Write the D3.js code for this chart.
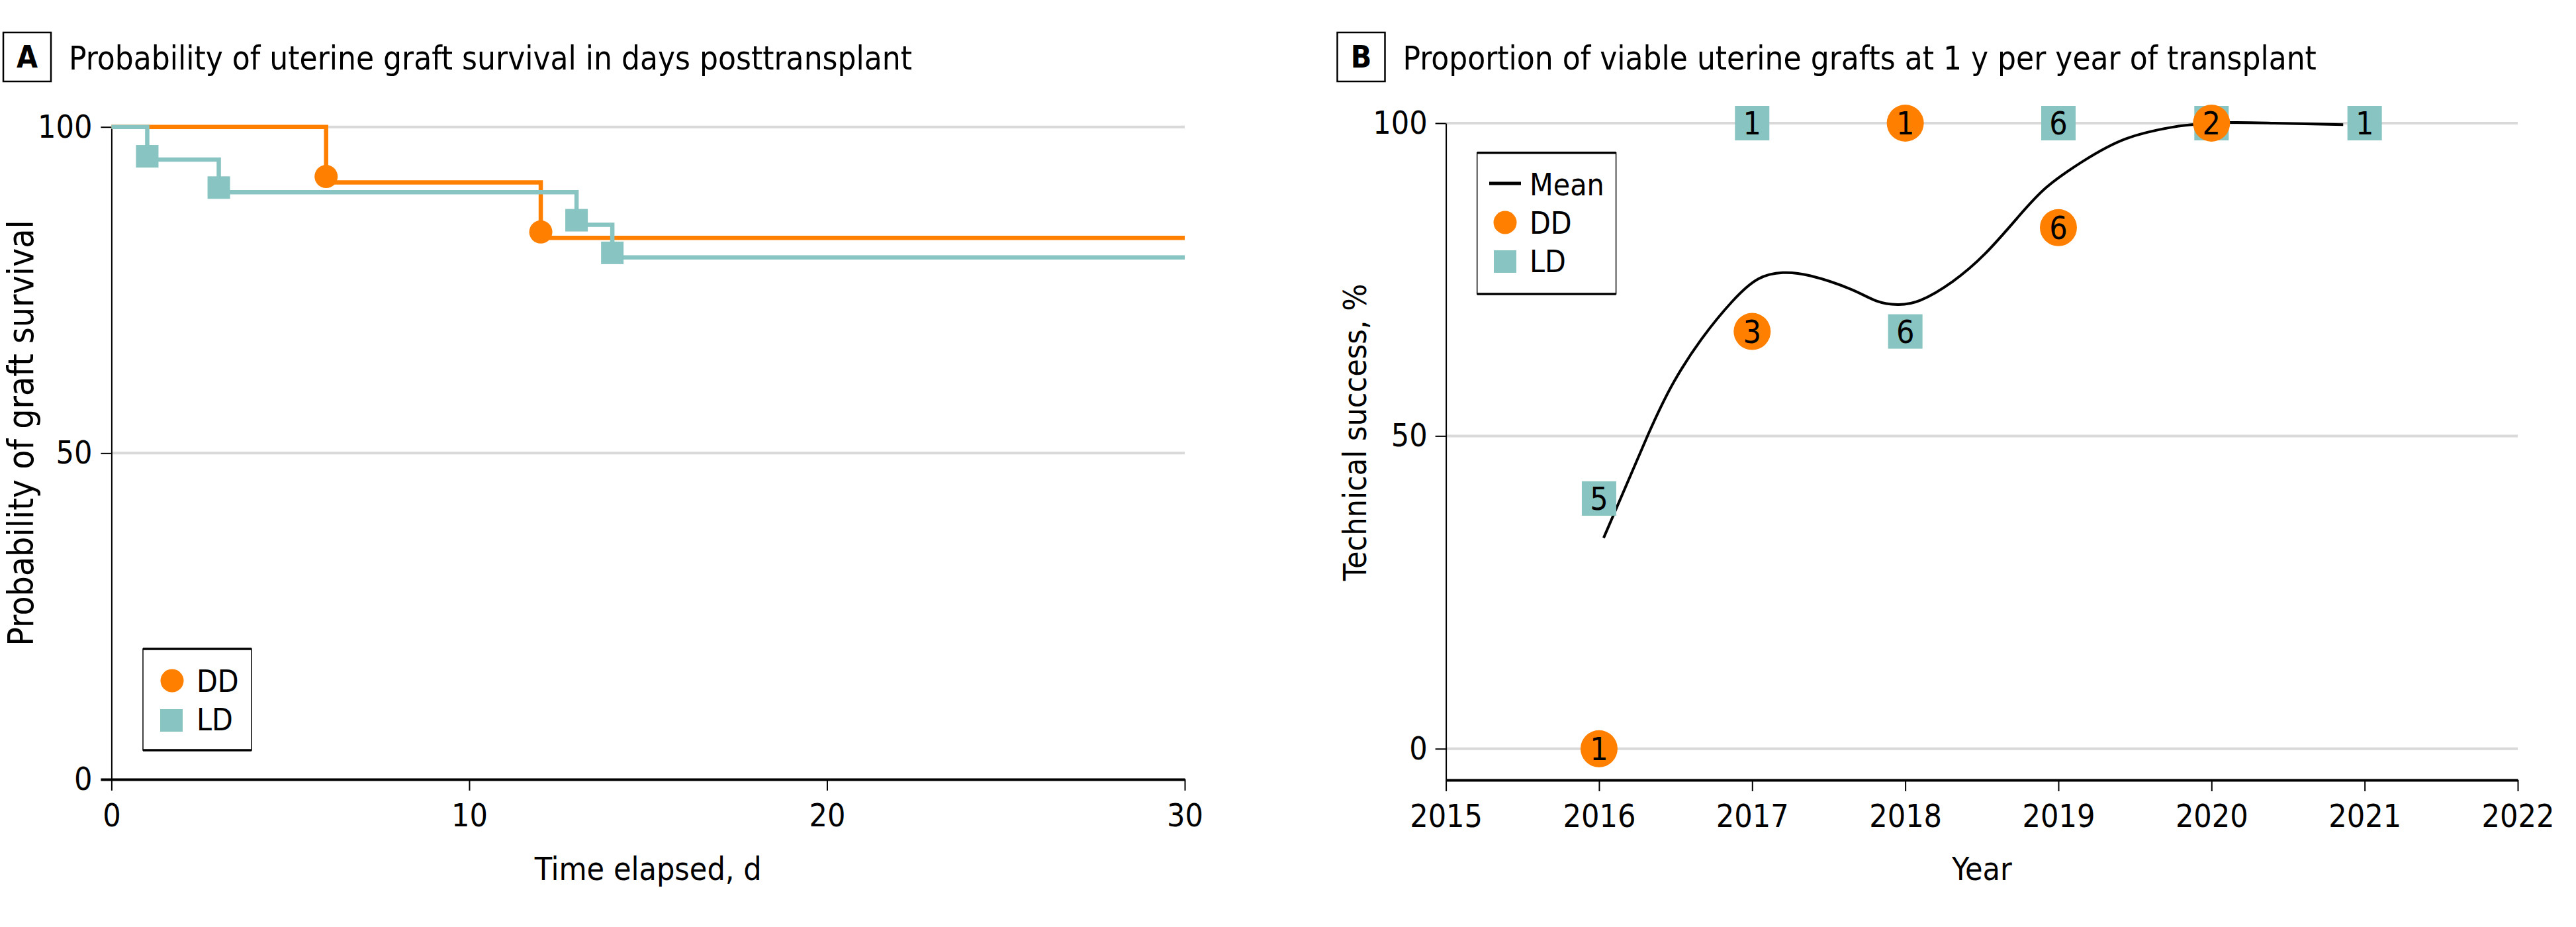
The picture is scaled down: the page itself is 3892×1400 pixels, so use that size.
<!DOCTYPE html>
<html>
<head>
<meta charset="utf-8">
<script src="https://cdn.jsdelivr.net/npm/d3@7"></script>
<style>
  body { margin: 0; background: #fff; }
  text { font-family: "DejaVu Sans Condensed", "DejaVu Sans", sans-serif; fill: #000; }
</style>
</head>
<body>
<svg width="3892" height="1400"></svg>
<script>
// Panel A: Kaplan-Meier steps
const ddDays = [0, 6, 12, 30];
const ddSurv = [100, 91.5, 83, 83];
const ldDays = [0, 1, 3, 13, 14, 30];
const ldSurv = [100, 95, 90, 85, 80, 80];
// event markers
const ddMarkDays = [6, 12];
const ddMarkSurv = [92.4, 83.9];
const ldMarkDays = [1, 3, 13, 14];
const ldMarkSurv = [95.5, 90.7, 85.7, 80.7];
const dayTicks = [0, 10, 20, 30];
const survTicks = [0, 50, 100];

// Panel B: yearly proportions
const years = [2016, 2017, 2018, 2019, 2020, 2021];
const ddRate = [0, 66.7, 100, 83.3, 100, null];
const ddCount = [1, 3, 1, 6, 2, null];
const ldRate = [40, 100, 66.7, 100, 100, 100];
const ldCount = [5, 1, 6, 6, 2, 1];
const meanYear = [2016.03, 2016.32, 2016.49, 2016.67, 2016.87, 2017.04, 2017.2, 2017.38, 2017.64, 2017.81, 2017.95, 2018.1, 2018.31, 2018.52, 2018.73, 2018.92, 2019.16, 2019.44, 2019.73, 2019.89, 2020.12, 2020.41, 2020.86];
const meanRate = [33.7, 50.2, 58.7, 65.5, 71.5, 75.1, 76.1, 75.6, 73.5, 71.6, 71, 71.7, 74.7, 79.1, 84.8, 89.7, 93.9, 97.5, 99.3, 99.8, 100.1, 100, 99.75];
const yearTicks = [2015, 2016, 2017, 2018, 2019, 2020, 2021, 2022];

const orange = "#ff8000";
const teal = "#88c4c1";
const grid = "#d9d9d9";

const svg = d3.select("svg");
svg.append("rect").attr("width", 3892).attr("height", 1400).attr("fill", "#fff");

// panel heading: boxed letter + title
function heading(x, letter, title) {
  svg.append("rect")
    .attr("x", x).attr("y", 49).attr("width", 72).attr("height", 74)
    .attr("fill", "none").attr("stroke", "#000").attr("stroke-width", 2.5);
  svg.append("text")
    .attr("x", x + 36).attr("y", 102)
    .attr("text-anchor", "middle")
    .style("font-size", "46px").style("font-weight", "bold")
    .text(letter);
  svg.append("text")
    .attr("x", x + 99).attr("y", 105)
    .style("font-size", "49px")
    .text(title);
}

function styleAxis(g, domainWidth) {
  g.selectAll("text").style("font-size", "48px").attr("fill", "#000");
  g.selectAll(".tick line").attr("stroke", "#000").attr("stroke-width", 2);
  g.select(".domain").attr("stroke", "#000").attr("stroke-width", domainWidth);
}

function legendBox(x0, y0, x1, y1) {
  svg.append("rect")
    .attr("x", x0).attr("y", y0).attr("width", x1 - x0).attr("height", y1 - y0)
    .attr("fill", "#fff").attr("stroke", "#000").attr("stroke-width", 1.5);
  [y0, y1].forEach(y => {
    svg.append("line")
      .attr("x1", x0).attr("x2", x1).attr("y1", y).attr("y2", y)
      .attr("stroke", "#000").attr("stroke-width", 3.5);
  });
}

// ---------- Panel A ----------
const xA = d3.scaleLinear().domain([0, 30]).range([168.4, 1790]);
const yA = d3.scaleLinear().domain([0, 100]).range([1177, 191.7]);

heading(5, "A", "Probability of uterine graft survival in days posttransplant");

const gA = svg.append("g");

gA.selectAll(".gridA")
  .data(survTicks.filter(d => d > 0))
  .enter().append("line")
  .attr("x1", xA(0)).attr("x2", xA(30))
  .attr("y1", d => yA(d)).attr("y2", d => yA(d))
  .attr("stroke", grid).attr("stroke-width", 4);

const axisAy = gA.append("g")
  .attr("transform", "translate(" + xA(0) + ",0)")
  .call(d3.axisLeft(yA).tickValues(survTicks).tickSize(16).tickSizeOuter(0).tickPadding(13));
styleAxis(axisAy, 2);
// the 0 tick runs into the heavy x axis
axisAy.selectAll(".tick").filter(d => d === 0).select("line").attr("stroke-width", 4);

const axisAx = gA.append("g")
  .attr("transform", "translate(0," + yA(0) + ")")
  .call(d3.axisBottom(xA).tickValues(dayTicks).tickSize(17).tickSizeOuter(0).tickPadding(10));
styleAxis(axisAx, 4);
axisAx.selectAll("text").attr("dy", "0.76em").attr("y", 35);

const stepLine = d3.line()
  .x(d => xA(d[0]))
  .y(d => yA(d[1]))
  .curve(d3.curveStepAfter);

gA.append("path")
  .datum(d3.zip(ddDays, ddSurv))
  .attr("d", stepLine)
  .attr("fill", "none").attr("stroke", orange).attr("stroke-width", 6.5);

gA.selectAll(".ddMark")
  .data(d3.zip(ddMarkDays, ddMarkSurv))
  .enter().append("circle")
  .attr("cx", d => xA(d[0])).attr("cy", d => yA(d[1]))
  .attr("r", 17.5).attr("fill", orange);

gA.append("path")
  .datum(d3.zip(ldDays, ldSurv))
  .attr("d", stepLine)
  .attr("fill", "none").attr("stroke", teal).attr("stroke-width", 6.5);

gA.selectAll(".ldMark")
  .data(d3.zip(ldMarkDays, ldMarkSurv))
  .enter().append("rect")
  .attr("x", d => xA(d[0]) - 17).attr("y", d => yA(d[1]) - 17)
  .attr("width", 34).attr("height", 34).attr("fill", teal);

gA.append("text")
  .attr("x", xA(15)).attr("y", 1329)
  .attr("text-anchor", "middle")
  .style("font-size", "48px")
  .text("Time elapsed, d");

gA.append("text")
  .attr("transform", "translate(50,654) rotate(-90)")
  .attr("text-anchor", "middle")
  .style("font-size", "53px")
  .text("Probability of graft survival");

// legend A
legendBox(216, 980, 380, 1133);
svg.append("circle").attr("cx", 260).attr("cy", 1028).attr("r", 17.5).attr("fill", orange);
svg.append("text").attr("x", 297).attr("y", 1045).style("font-size", "46px").text("DD");
svg.append("rect").attr("x", 242).attr("y", 1071).attr("width", 34).attr("height", 34).attr("fill", teal);
svg.append("text").attr("x", 297).attr("y", 1103).style("font-size", "46px").text("LD");

// ---------- Panel B ----------
const xB = d3.scaleLinear().domain([2015, 2022]).range([2184.6, 3804]);
const yB = d3.scaleLinear().domain([-5, 100]).range([1178, 186]);

heading(2020.5, "B", "Proportion of viable uterine grafts at 1 y per year of transplant");

const gB = svg.append("g");

gB.selectAll(".gridB")
  .data(survTicks)
  .enter().append("line")
  .attr("x1", xB(2015)).attr("x2", xB(2022))
  .attr("y1", d => yB(d)).attr("y2", d => yB(d))
  .attr("stroke", grid).attr("stroke-width", 4);

const axisBy = gB.append("g")
  .attr("transform", "translate(" + xB(2015) + ",0)")
  .call(d3.axisLeft(yB).tickValues(survTicks).tickSize(16).tickSizeOuter(0).tickPadding(12));
styleAxis(axisBy, 2);

const axisBx = gB.append("g")
  .attr("transform", "translate(0," + yB(-5) + ")")
  .call(d3.axisBottom(xB).tickValues(yearTicks).tickFormat(d3.format("d")).tickSize(17).tickSizeOuter(0));
styleAxis(axisBx, 4);
axisBx.selectAll("text").attr("dy", "0.76em").attr("y", 35);

// smoothed mean
const meanLine = d3.line()
  .x(d => xB(d[0]))
  .y(d => yB(d[1]))
  .curve(d3.curveNatural);

gB.append("path")
  .datum(d3.zip(meanYear, meanRate))
  .attr("d", meanLine)
  .attr("fill", "none").attr("stroke", "#000").attr("stroke-width", 4);

// living donor squares
const ldData = years.map((y, i) => ({ year: y, rate: ldRate[i], n: ldCount[i] }))
  .filter(d => d.rate != null);
const ldG = gB.selectAll(".ldB")
  .data(ldData)
  .enter().append("g")
  .attr("transform", d => "translate(" + xB(d.year) + "," + yB(d.rate) + ")");
ldG.append("rect")
  .attr("x", -26).attr("y", -26).attr("width", 52).attr("height", 52)
  .attr("fill", teal);
ldG.append("text")
  .attr("text-anchor", "middle").attr("dy", "0.36em")
  .style("font-size", "48px")
  .text(d => d.n);

// deceased donor circles
const ddData = years.map((y, i) => ({ year: y, rate: ddRate[i], n: ddCount[i] }))
  .filter(d => d.rate != null);
const ddG = gB.selectAll(".ddB")
  .data(ddData)
  .enter().append("g")
  .attr("transform", d => "translate(" + xB(d.year) + "," + yB(d.rate) + ")");
ddG.append("circle")
  .attr("r", 28).attr("fill", orange);
ddG.append("text")
  .attr("text-anchor", "middle").attr("dy", "0.36em")
  .style("font-size", "48px")
  .text(d => d.n);

gB.append("text")
  .attr("x", xB(2018.5)).attr("y", 1329)
  .attr("text-anchor", "middle")
  .style("font-size", "48px")
  .text("Year");

gB.append("text")
  .attr("transform", "translate(2064,653) rotate(-90)")
  .attr("text-anchor", "middle")
  .style("font-size", "48px")
  .text("Technical success, %");

// legend B
legendBox(2231.7, 230.7, 2441.6, 444);
svg.append("line").attr("x1", 2250).attr("x2", 2298).attr("y1", 277).attr("y2", 277)
  .attr("stroke", "#000").attr("stroke-width", 5);
svg.append("text").attr("x", 2311).attr("y", 295).style("font-size", "46px").text("Mean");
svg.append("circle").attr("cx", 2274).attr("cy", 336).attr("r", 17.5).attr("fill", orange);
svg.append("text").attr("x", 2311).attr("y", 353).style("font-size", "46px").text("DD");
svg.append("rect").attr("x", 2257).attr("y", 378).attr("width", 34).attr("height", 34).attr("fill", teal);
svg.append("text").attr("x", 2311).attr("y", 411).style("font-size", "46px").text("LD");
</script>
</body>
</html>
